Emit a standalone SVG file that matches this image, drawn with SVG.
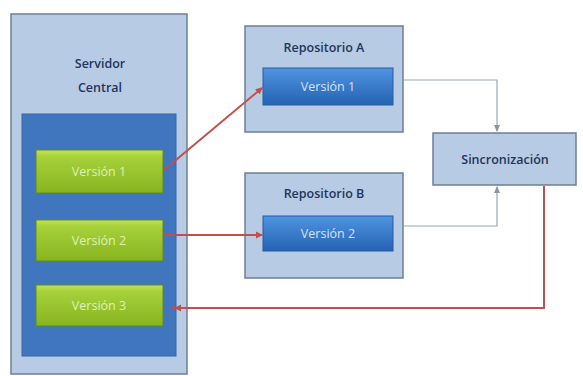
<svg xmlns="http://www.w3.org/2000/svg" width="583" height="376" viewBox="0 0 583 376">
<style>
.panel{fill:#b7cbe4;stroke:#6d7f98;stroke-width:1.5}
.inner{fill:#3f76bd;stroke:#3a67a3;stroke-width:1}
.green{fill:url(#g);stroke:#5e8a1e;stroke-width:1}
.blue{fill:url(#b);stroke:#2a5aa0;stroke-width:1}
.hd{font-family:"Open Sans","Liberation Sans",sans-serif;font-size:12.5px;font-weight:600;fill:#22365a;text-anchor:middle}
.gt{font-family:"Open Sans","Liberation Sans",sans-serif;font-size:12.5px;fill:#dff0bd;text-anchor:middle}
.bt{font-family:"Open Sans","Liberation Sans",sans-serif;font-size:12.5px;fill:#d2e3f7;text-anchor:middle}
.red{fill:none;stroke:#c0504d;stroke-width:2}
.grey{fill:none;stroke:#9aa6b4;stroke-width:1.2}
</style>
<defs>
<linearGradient id="g" x1="0" y1="0" x2="0" y2="1">
<stop offset="0" stop-color="#c4e35a"/><stop offset="0.15" stop-color="#a8d13a"/><stop offset="1" stop-color="#86b41f"/>
</linearGradient>
<linearGradient id="b" x1="0" y1="0" x2="0" y2="1">
<stop offset="0" stop-color="#4f95e0"/><stop offset="1" stop-color="#2562b3"/>
</linearGradient>
<marker id="ar" markerWidth="8" markerHeight="8" refX="6" refY="4" orient="auto" markerUnits="userSpaceOnUse">
<path d="M0,0.5 L7,4 L0,7.5 Z" fill="#c0504d"/>
</marker>
<marker id="ag" markerWidth="8" markerHeight="8" refX="6" refY="4" orient="auto" markerUnits="userSpaceOnUse">
<path d="M0,1 L7,4 L0,7 Z" fill="#8a96a4"/>
</marker>
</defs>
<g id="servidor">
<rect class="panel" x="11" y="14" width="176" height="360"/>
<text class="hd" x="100" y="68">Servidor</text>
<text class="hd" x="100" y="92">Central</text>
<rect class="inner" x="22" y="114" width="154" height="242"/>
</g>
<g id="s-v1"><rect class="green" x="36" y="150" width="127" height="43"/><text class="gt" x="99" y="176">Versión 1</text></g>
<g id="s-v2"><rect class="green" x="36" y="220" width="127" height="41"/><text class="gt" x="99" y="245">Versión 2</text></g>
<g id="s-v3"><rect class="green" x="36" y="285" width="127" height="41"/><text class="gt" x="99" y="310">Versión 3</text></g>
<g id="repoA">
<rect class="panel" x="245" y="26" width="158" height="106"/>
<text class="hd" x="324" y="52">Repositorio A</text>
<rect class="blue" x="263" y="68" width="130" height="37"/>
<text class="bt" x="328" y="91">Versión 1</text>
</g>
<g id="repoB">
<rect class="panel" x="245" y="173" width="158" height="105"/>
<text class="hd" x="324" y="198">Repositorio B</text>
<rect class="blue" x="263" y="216" width="130" height="35"/>
<text class="bt" x="328" y="238">Versión 2</text>
</g>
<g id="sync">
<rect class="panel" x="433" y="133" width="143" height="52"/>
<text class="hd" x="505" y="164">Sincronización</text>
</g>
<g id="connectors">
<path class="red" d="M164,170 L262,88" marker-end="url(#ar)"/>
<path class="red" d="M164,235 L262,235" marker-end="url(#ar)"/>
<path class="red" d="M544,186 L544,308 L175,308" marker-end="url(#ar)"/>
<circle cx="174" cy="308" r="2" fill="#c0504d"/>
<path class="grey" d="M403,80 L497,80 L497,131" marker-end="url(#ag)"/>
<path class="grey" d="M403,226 L497,226 L497,187" marker-end="url(#ag)"/>
</g>
</svg>
